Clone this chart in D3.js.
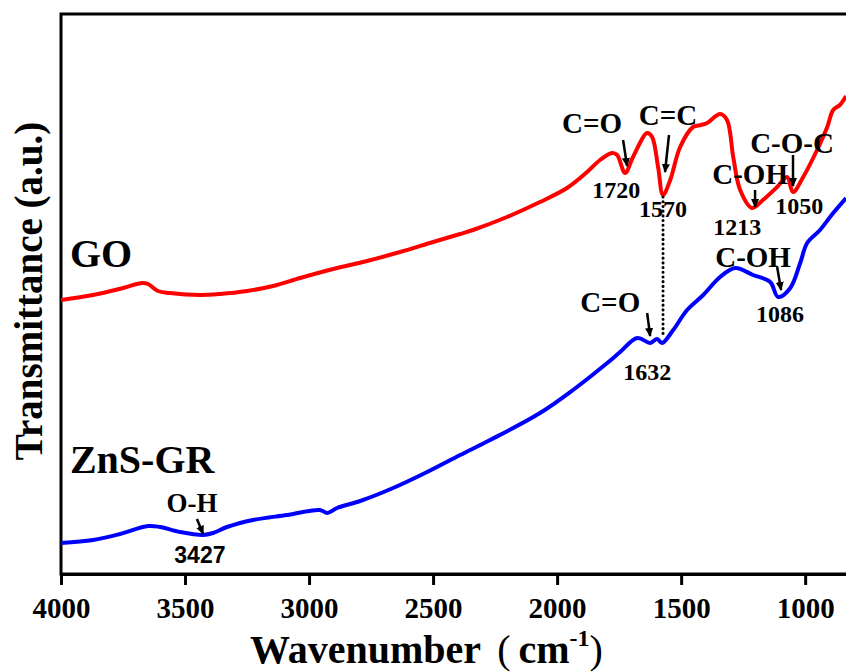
<!DOCTYPE html>
<html>
<head>
<meta charset="utf-8">
<script src="https://cdn.jsdelivr.net/npm/d3@7"></script>
<style>
  body { margin: 0; background: #fff; }
  svg { display: block; }
  text { font-family: "Liberation Serif", "Times New Roman", serif; font-weight: bold; fill: #000; }
</style>
</head>
<body>
<div id="chart"></div>
<script>
// GO spectrum (wavenumber cm-1, transmittance a.u.)
const goWave = [4000, 3871, 3750, 3673, 3649, 3609, 3561, 3440, 3359, 3250, 3145, 3036, 2903, 2766, 2633, 2500, 2391, 2339, 2202, 2069, 1960, 1879, 1827, 1778, 1758, 1726, 1694, 1637, 1617, 1593, 1573, 1544, 1504, 1452, 1420, 1395, 1343, 1315, 1290, 1262, 1214, 1170, 1113, 1073, 1049, 1008, 952, 911, 887, 860, 835];
const goT    = [274, 279, 286, 291, 290, 283, 281, 279, 280, 283, 288, 296, 305, 313, 322, 332, 340, 344, 357, 372, 386, 402, 414, 421, 419, 401, 417, 441, 437, 407, 379, 394, 427, 447, 449, 451, 460, 454, 417, 384, 366, 374, 387, 397, 382, 397, 424, 447, 464, 469, 478];

// ZnS-GR spectrum
const zgWave = [4000, 3871, 3762, 3649, 3601, 3520, 3427, 3387, 3331, 3226, 3089, 2956, 2927, 2887, 2794, 2661, 2524, 2391, 2270, 2069, 1936, 1798, 1746, 1677, 1625, 1597, 1577, 1532, 1476, 1411, 1343, 1282, 1210, 1141, 1109, 1060, 1020, 992, 940, 887, 835];
const zgT    = [31, 34, 40, 48, 47, 42, 39, 41, 47, 54, 59, 64, 61, 66, 73, 86, 102, 119, 134, 161, 184, 211, 222, 236, 231, 235, 231, 244, 264, 279, 297, 306, 299, 292, 277, 286, 311, 331, 344, 361, 376];

const majorTicks = [4000, 3500, 3000, 2500, 2000, 1500, 1000];
const minorTicks = [3750, 3250, 2750, 2250, 1750, 1250];

// sample names
const sampleNames = ["GO", "ZnS-GR"];
const sampleWave  = [3964, 3964];
const sampleT     = [307, 101];

// band labels: text, wavenumber, transmittance (baseline)
const bandText = ["C=O", "C=C", "C-OH", "C-O-C", "C=O", "C-OH", "O-H"];
const bandWave = [1859, 1553, 1222, 1053, 1786, 1210, 3472];
const bandT    = [441, 449, 390, 421, 262, 307, 62];

const peakText = ["1720", "1570", "1213", "1050", "1632", "1086", "3427"];
const peakWave = [1762, 1573, 1274, 1024, 1637, 1101, 3440];
const peakT    = [376, 357, 339, 360, 194, 252, 11];

// arrows: start and end
const arrowW1 = [1734, 1549, 1202, 1049, 1637, 1113, 3452];
const arrowT1 = [434, 439, 384, 419, 261, 307, 55];
const arrowW2 = [1718, 1565, 1202, 1049, 1625, 1097, 3427];
const arrowT2 = [408, 402, 367, 388, 238, 284, 40];

// dotted guide at 1570
const guideWave = 1573;
const guideT = [377, 239];

const width = 846, height = 672;
const margin = {top: 14, left: 61, bottom: 98};
const serif = '"Liberation Serif", "Times New Roman", serif';

const svg = d3.select("#chart").append("svg")
  .attr("width", width).attr("height", height);

const x = d3.scaleLinear().domain([4000, 400]).range([margin.left, 954]);
const y = d3.scaleLinear().domain([0, 560]).range([height - margin.bottom, margin.top]);

// frame
svg.append("rect")
  .attr("x", x(4000)).attr("y", y(560))
  .attr("width", x(400) - x(4000)).attr("height", y(0) - y(560))
  .attr("fill", "none").attr("stroke", "#000").attr("stroke-width", 3);

// axes
const axisG = svg.append("g").attr("transform", `translate(0,${y(0)})`);
axisG.call(d3.axisBottom(x).tickValues(minorTicks).tickSize(6).tickFormat(""));
axisG.call(d3.axisBottom(x).tickValues(majorTicks).tickSize(11).tickFormat(d3.format("d")));
axisG.attr("font-family", serif).attr("font-weight", "bold").attr("font-size", 29);
axisG.select(".domain").attr("stroke-width", 3);
axisG.selectAll(".tick line").attr("stroke-width", 3);
axisG.selectAll(".tick text")
  .attr("y", 44).attr("dy", null)
  .style("font-size", "29px")
  .style("font-family", serif)
  .style("font-weight", "bold");

// spectra
const line = d3.line()
  .x(d => x(d[0])).y(d => y(d[1]))
  .curve(d3.curveCatmullRom.alpha(0.5));

svg.append("path")
  .datum(d3.zip(goWave, goT))
  .attr("d", line).attr("fill", "none")
  .attr("stroke", "#ff0000").attr("stroke-width", 4).attr("stroke-linejoin", "round");

svg.append("path")
  .datum(d3.zip(zgWave, zgT))
  .attr("d", line).attr("fill", "none")
  .attr("stroke", "#0000ff").attr("stroke-width", 4).attr("stroke-linejoin", "round");

// dotted guide
svg.append("line")
  .attr("x1", x(guideWave)).attr("x2", x(guideWave))
  .attr("y1", y(guideT[0])).attr("y2", y(guideT[1]))
  .attr("stroke", "#000").attr("stroke-width", 3)
  .attr("stroke-linecap", "round").attr("stroke-dasharray", "0.1 4.6");

// arrows
svg.append("defs").append("marker")
  .attr("id", "head")
  .attr("markerUnits", "userSpaceOnUse")
  .attr("viewBox", "0 0 10 10")
  .attr("refX", 9).attr("refY", 5)
  .attr("markerWidth", 9).attr("markerHeight", 9)
  .attr("orient", "auto")
  .append("path").attr("d", "M0,0.5 L10,5 L0,9.5 Z").attr("fill", "#000");

svg.append("g").selectAll("line")
  .data(d3.range(arrowW1.length))
  .join("line")
    .attr("x1", i => x(arrowW1[i])).attr("y1", i => y(arrowT1[i]))
    .attr("x2", i => x(arrowW2[i])).attr("y2", i => y(arrowT2[i]))
    .attr("stroke", "#000").attr("stroke-width", 2.5)
    .attr("marker-end", "url(#head)");

// band labels
svg.append("g").selectAll("text")
  .data(bandText)
  .join("text")
    .attr("x", (d, i) => x(bandWave[i])).attr("y", (d, i) => y(bandT[i]))
    .attr("text-anchor", "middle")
    .style("font-size", (d, i) => i === 6 ? "27px" : "29px")
    .text(d => d);

svg.append("g").selectAll("text")
  .data(peakText)
  .join("text")
    .attr("x", (d, i) => x(peakWave[i])).attr("y", (d, i) => y(peakT[i]))
    .attr("text-anchor", "middle")
    .style("font-size", (d, i) => i === 6 ? "23px" : "24px")
    .style("font-family", (d, i) => i === 6 ? '"Liberation Sans", Arial, sans-serif' : null)
    .text(d => d);

// sample names
svg.append("g").selectAll("text")
  .data(sampleNames)
  .join("text")
    .attr("x", (d, i) => x(sampleWave[i])).attr("y", (d, i) => y(sampleT[i]))
    .style("font-size", "40px")
    .text(d => d);

// axis titles
svg.append("text")
  .attr("transform", "translate(42,291) rotate(-90)")
  .attr("text-anchor", "middle")
  .style("font-size", "39px")
  .text("Transmittance (a.u.)");

const xt = svg.append("text")
  .attr("x", 250).attr("y", 663)
  .style("font-size", "40px");
xt.append("tspan").text("Wavenumber");
xt.append("tspan").attr("dx", 16).style("font-weight", "normal").text("(");
xt.append("tspan").attr("dx", 8).text("cm");
xt.append("tspan").attr("dy", -17).style("font-size", "24px").text("-1");
xt.append("tspan").attr("dy", 17).style("font-weight", "normal").text(")");
</script>
</body>
</html>
